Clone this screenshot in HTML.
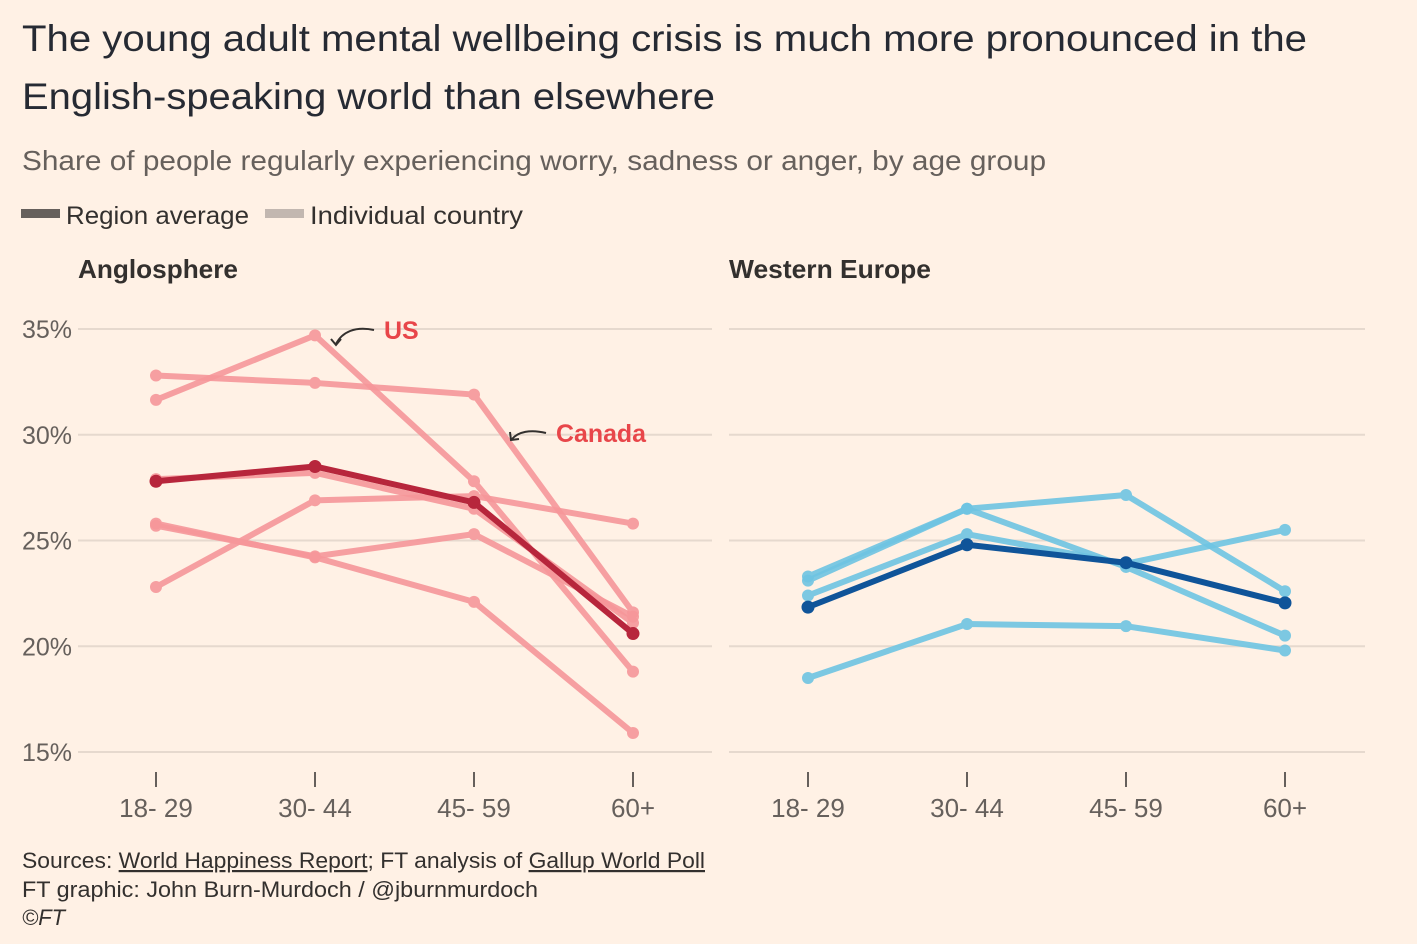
<!DOCTYPE html>
<html><head><meta charset="utf-8"><style>
body{margin:0;background:#fff1e5;width:1417px;height:939px;overflow:hidden;font-family:"Liberation Sans",sans-serif;}
</style></head><body>
<svg width="1417" height="939" xmlns="http://www.w3.org/2000/svg" style="font-family:'Liberation Sans',sans-serif">
<rect width="1417" height="939" fill="#fff1e5"/>
<text x="22" y="51" font-size="37" fill="#262a33" textLength="1285" lengthAdjust="spacingAndGlyphs">The young adult mental wellbeing crisis is much more pronounced in the</text>
<text x="22" y="109" font-size="37" fill="#262a33" textLength="693" lengthAdjust="spacingAndGlyphs">English-speaking world than elsewhere</text>
<text x="22" y="170" font-size="28" fill="#66605c" textLength="1024" lengthAdjust="spacingAndGlyphs">Share of people regularly experiencing worry, sadness or anger, by age group</text>
<g>
<rect x="21" y="209" width="39" height="9" fill="#66605c"/>
<text x="66" y="224" font-size="25" fill="#33302e" textLength="183" lengthAdjust="spacingAndGlyphs">Region average</text>
<rect x="265" y="209" width="39" height="9" fill="#c2b7b0"/>
<text x="310" y="224" font-size="25" fill="#33302e" textLength="213" lengthAdjust="spacingAndGlyphs">Individual country</text>
</g>
<text x="78" y="278" font-size="26" font-weight="bold" fill="#33302e" textLength="160" lengthAdjust="spacingAndGlyphs">Anglosphere</text>
<text x="729" y="278" font-size="26" font-weight="bold" fill="#33302e" textLength="202" lengthAdjust="spacingAndGlyphs">Western Europe</text>
<g id="grid"></g>
<g id="marks"></g>
<g>
<path d="M374,330 C355,326 342,332 336,344" stroke="#33302e" stroke-width="2" fill="none"/>
<path d="M331,339 L336,345 L341,339" stroke="#33302e" stroke-width="2" fill="none"/>
<text x="384" y="339" font-size="25" font-weight="bold" fill="#e8464a">US</text>
<path d="M546,433 C530,429 518,432 512,439" stroke="#33302e" stroke-width="2" fill="none"/>
<path d="M510,432 L511,440 L519,439" stroke="#33302e" stroke-width="2" fill="none"/>
<text x="556" y="442" font-size="25" font-weight="bold" fill="#e8464a" textLength="90" lengthAdjust="spacingAndGlyphs">Canada</text>
</g>
<g font-size="22" fill="#33302e">
<text x="22" y="868" textLength="683" lengthAdjust="spacingAndGlyphs">Sources: <tspan text-decoration="underline">World Happiness Report</tspan>; FT analysis of <tspan text-decoration="underline">Gallup World Poll</tspan></text>
<text x="22" y="897" textLength="516" lengthAdjust="spacingAndGlyphs">FT graphic: John Burn-Murdoch / @jburnmurdoch</text>
<text x="22" y="925" font-style="italic">©FT</text>
</g>
</svg>
<script>
const categories=["18- 29","30- 44","45- 59","60+"];
const yTicks=[15,20,25,30,35];
const angloCountries=[
[31.65,34.7,27.8,18.8],
[32.8,32.45,31.9,21.6],
[27.9,28.2,26.5,21.1],
[22.8,26.9,27.1,25.8],
[25.8,24.2,22.1,15.9],
[25.7,24.25,25.3,21.4]
];
const angloAverage=[27.8,28.5,26.8,20.6];
const euroCountries=[
[23.3,26.5,27.15,22.6],
[23.1,26.5,23.75,20.5],
[22.4,25.3,23.9,25.5],
[18.5,21.05,20.95,19.8]
];
const euroAverage=[21.85,24.8,23.95,22.05];

const NS="http://www.w3.org/2000/svg";
function yScale(v){return 752-(v-15)*(423/20);}
const panels=[
{x0:78,x1:712,cx:[156,315,474,633],countries:angloCountries,avg:angloAverage,light:"#f6979a",dark:"#b7263c",name:"anglosphere"},
{x0:729,x1:1365,cx:[808,967,1126,1285],countries:euroCountries,avg:euroAverage,light:"#6ec4e2",dark:"#0f5499",name:"western-europe"}
];
function xScale(p,i){return p.cx[0]+i*(p.cx[3]-p.cx[0])/(categories.length-1);}
function mk(tag,attrs,parent){const e=document.createElementNS(NS,tag);for(const k in attrs)e.setAttribute(k,attrs[k]);parent.appendChild(e);return e;}
const grid=document.getElementById('grid');
const marks=document.getElementById('marks');
panels.forEach((p,pi)=>{
  yTicks.forEach(t=>{
    const l=mk('line',{x1:p.x0,x2:p.x1,y1:yScale(t),y2:yScale(t),stroke:"#e6d9ce","stroke-width":2},grid);
    
    
    if(pi===0){
      const tx=mk('text',{x:22,y:yScale(t)+9,"font-size":25,fill:"#66605c"},grid);
      tx.textContent=t+"%";
      
      
    }
  });
  categories.forEach((c,i)=>{
    const x=xScale(p,i);
    const tk=mk('line',{x1:x,x2:x,y1:772,y2:787,stroke:"#66605c","stroke-width":2},grid);
    
    
    const tx=mk('text',{x:x,y:817,"font-size":26,fill:"#66605c","text-anchor":"middle"},grid);
    tx.textContent=c;
    
    
  });
  function series(vals,color,w,r,op,nm){
    const g=mk('g',{opacity:op},marks);
    
    
    const pts=vals.map((v,i)=>xScale(p,i)+","+yScale(v)).join(" ");
    const pl=mk('polyline',{points:pts,fill:"none",stroke:color,"stroke-width":w,"stroke-linejoin":"round","stroke-linecap":"round"},g);
    
    
    vals.forEach((v,i)=>{
      const c=mk('circle',{cx:xScale(p,i),cy:yScale(v),r:r,fill:color},g);
      
      
    });
  }
  p.countries.forEach((s,k)=>series(s,p.light,6,6,0.9,p.name+'-country-'+(k+1)));
  series(p.avg,p.dark,6,6.5,1,p.name+'-average');
});
</script>
</body></html>
